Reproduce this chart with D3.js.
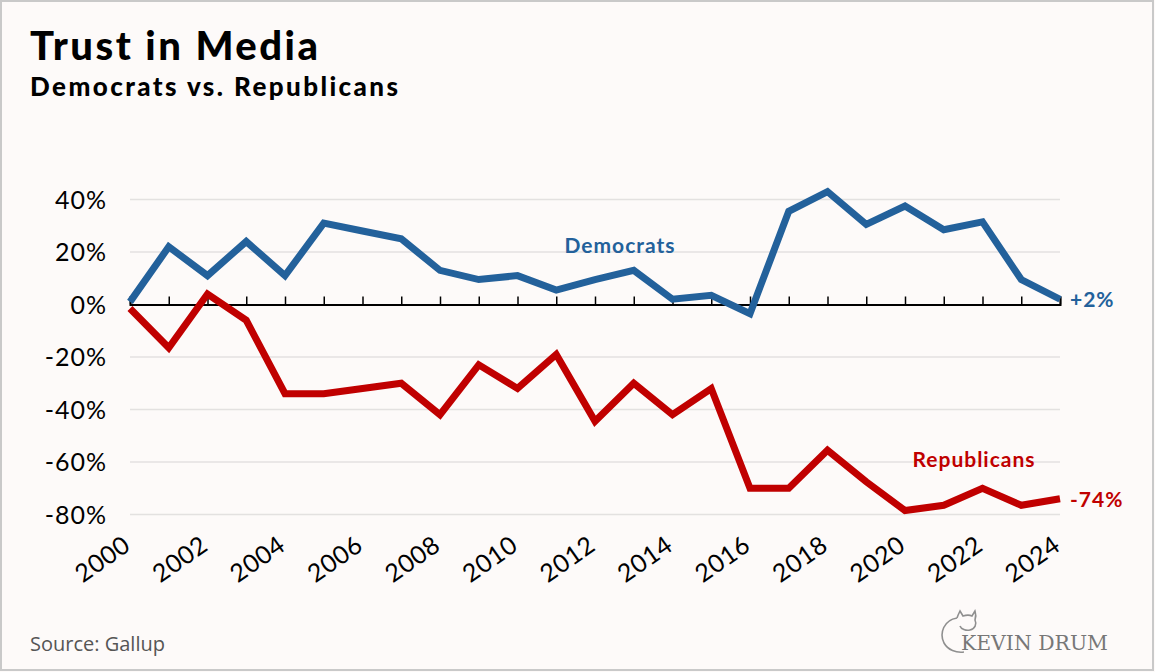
<!DOCTYPE html>
<html>
<head>
<meta charset="utf-8">
<script src="https://cdn.jsdelivr.net/npm/d3@7"></script>
<style>
  body { margin: 0; background: #fdfaf9; }
  #chart svg { display: block; }
</style>
</head>
<body>
<div id="chart"></div>
<script>
// Data (net trust, %)
const years = d3.range(2000, 2025);
const democrats = [1, 22, 11, 24, 11, 31, 28, 25, 13, 9.5, 11, 5.5, 9.5, 13, 2, 3.5, -3.5, 35.5, 43, 30.5, 37.5, 28.5, 31.5, 9.5, 2];
const republicans = [-1.5, -16.5, 4, -6, -34, -34, -32, -30, -42, -23, -32, -19, -44.5, -30, -42, -32, -70, -70, -55.5, -67.5, -78.5, -76.5, -70, -76.5, -74];
const yTicks = [40, 20, 0, -20, -40, -60, -80];
const xTickYears = d3.range(2000, 2025, 2);

const width = 1155;
const height = 672;

const svg = d3.select("#chart")
  .append("svg")
  .attr("width", width)
  .attr("height", height);

// background + frame
svg.append("rect")
  .attr("x", 1).attr("y", 1)
  .attr("width", width - 3).attr("height", height - 3)
  .attr("fill", "#fdfaf9")
  .attr("stroke", "#c9c9c9")
  .attr("stroke-width", 2);

// titles
svg.append("text")
  .attr("x", 30).attr("y", 60)
  .attr("textLength", 288)
  .attr("lengthAdjust", "spacing")
  .text("Trust in Media")
  .style("font-family", "Lato")
  .style("font-weight", 900)
  .style("font-size", "40px")
  .attr("fill", "#000");

svg.append("text")
  .attr("x", 30).attr("y", 96)
  .attr("textLength", 368)
  .attr("lengthAdjust", "spacing")
  .text("Democrats vs. Republicans")
  .style("font-family", "Lato")
  .style("font-weight", 900)
  .style("font-size", "26px")
  .attr("fill", "#000");

// scales
const x = d3.scaleLinear().domain([2000, 2024]).range([130, 1060]);
const y = d3.scaleLinear().domain([0, 40]).range([304.5, 199.5]);

// gridlines
svg.append("g")
  .selectAll("line")
  .data(yTicks.filter((d) => d !== 0))
  .enter()
  .append("line")
  .attr("x1", x(2000)).attr("x2", x(2024))
  .attr("y1", (d) => y(d)).attr("y2", (d) => y(d))
  .attr("stroke", "#e3e1e0")
  .attr("stroke-width", 1.5);

// y labels
svg.append("g")
  .selectAll("text")
  .data(yTicks)
  .enter()
  .append("text")
  .attr("x", 107)
  .attr("y", (d) => y(d) + 9)
  .attr("text-anchor", "end")
  .text((d) => d + "%")
  .style("font-family", "Lato")
  .style("font-size", "25px")
  .style("letter-spacing", "1px")
  .attr("fill", "#000");

// zero axis with year ticks pointing up
const xAxis = d3.axisTop(x)
  .tickValues(years)
  .tickSize(8)
  .tickFormat("");
const axisG = svg.append("g")
  .attr("transform", `translate(0,${y(0)})`)
  .call(xAxis);
axisG.select(".domain").attr("stroke", "#000").attr("stroke-width", 2);
axisG.selectAll(".tick line").attr("stroke", "#000").attr("stroke-width", 1.5);

// rotated year labels
svg.append("g")
  .selectAll("text")
  .data(xTickYears)
  .enter()
  .append("text")
  .attr("transform", (d) => `translate(${x(d) + 2},${549}) rotate(-35)`)
  .attr("text-anchor", "end")
  .text((d) => d)
  .style("font-family", "Lato")
  .style("font-size", "25px")
  .style("letter-spacing", "0.5px")
  .attr("fill", "#000");

// lines
const line = d3.line()
  .x((d, i) => x(years[i]))
  .y((d) => y(d));

svg.append("path")
  .datum(democrats)
  .attr("d", line)
  .attr("fill", "none")
  .attr("stroke", "#23619b")
  .attr("stroke-width", 7)
  .attr("stroke-linejoin", "miter");

svg.append("path")
  .datum(republicans)
  .attr("d", line)
  .attr("fill", "none")
  .attr("stroke", "#c00000")
  .attr("stroke-width", 7)
  .attr("stroke-linejoin", "miter");

// series labels
const labelStyle = (sel, color) => sel
  .style("font-family", "Lato")
  .style("font-weight", 700)
  .style("font-size", "21px")
  .style("letter-spacing", "1px")
  .attr("fill", color);

svg.append("text")
  .attr("x", 620).attr("y", 253)
  .attr("text-anchor", "middle")
  .text("Democrats")
  .call(labelStyle, "#23619b");

svg.append("text")
  .attr("x", 974).attr("y", 467)
  .attr("text-anchor", "middle")
  .text("Republicans")
  .call(labelStyle, "#c00000");

svg.append("text")
  .attr("x", 1070).attr("y", y(democrats[democrats.length - 1]) + 8)
  .text("+2%")
  .call(labelStyle, "#23619b");

svg.append("text")
  .attr("x", 1070).attr("y", y(republicans[republicans.length - 1]) + 8)
  .text("-74%")
  .call(labelStyle, "#c00000");

// source
svg.append("text")
  .attr("x", 30).attr("y", 651)
  .text("Source: Gallup")
  .style("font-family", "Open Sans")
  .style("font-size", "20px")
  .attr("fill", "#555");

// logo: cat curled round the name
const logo = svg.append("g").attr("transform", "translate(930,605)");
logo.append("path")
  .attr("d", "M27,13 C14,15 9,28 14,38 C18,45 26,48 34,47 M27,13 C28,10 29,8 30,6 L33,11 C36,10 40,10 42,11 L45,6 C46,9 46,12 45,15 C47,19 45,24 40,25 C36,26 31,24 30,21")
  .attr("fill", "none")
  .attr("stroke", "#8f8f8f")
  .attr("stroke-width", 1.6);
logo.append("text")
  .attr("x", 31).attr("y", 45)
  .attr("textLength", 147)
  .attr("lengthAdjust", "spacingAndGlyphs")
  .text("KEVIN DRUM")
  .style("font-family", "DejaVu Serif")
  .style("font-size", "20px")
  .attr("fill", "#777");
</script>
</body>
</html>
